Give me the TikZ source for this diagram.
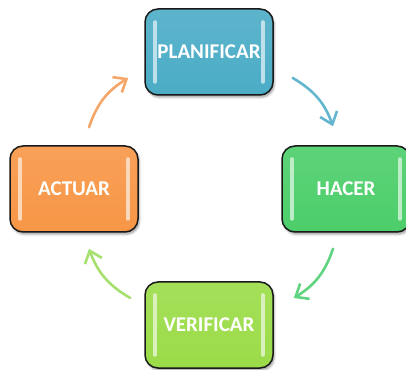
\documentclass[tikz,border=0pt]{standalone}
\usepackage{fontspec}
\setmainfont{Carlito}
\usetikzlibrary{arrows.meta,shadows.blur}
\definecolor{azulPlan}{RGB}{75,172,198}
\definecolor{verdeHacer}{RGB}{76,206,106}
\definecolor{limaVerif}{RGB}{155,220,72}
\definecolor{naranjaAct}{RGB}{247,150,70}
\definecolor{flechaAzul}{RGB}{100,182,206}
\definecolor{flechaVerde}{RGB}{96,212,128}
\definecolor{flechaLima}{RGB}{166,224,110}
\definecolor{flechaNaranja}{RGB}{245,166,106}
\begin{document}
\begin{tikzpicture}[x=1pt,y=1pt,
		Caja/.style={draw=black!90, line width=1.5pt, rounded corners=13pt, minimum width=128pt, minimum height=86pt, top color=#1!90!white, bottom color=#1, text=white, font=\fontsize{21}{25}\selectfont\bfseries, blur shadow={shadow xshift=1.5pt, shadow yshift=-2.5pt, shadow opacity=35}},
		Flecha/.style={draw=#1, line width=2.6pt, line cap=round, -{Straight Barb[length=11pt,width=18pt,line width=2.6pt]}},
		Brillo/.style={draw=#1!30!white, opacity=0.9, line width=4pt, line cap=round}]
		\useasboundingbox (0,0) rectangle (406,369);
		\node[Caja=azulPlan] (plan) at (209,317) {PLANIFICAR};
		\node[Caja=verdeHacer] (hacer) at (346,180) {HACER};
		\node[Caja=limaVerif] (verif) at (209,44) {VERIFICAR};
		\node[Caja=naranjaAct] (actuar) at (74,180) {ACTUAR};
		\foreach \n/\c in {plan/azulPlan,hacer/verdeHacer,verif/limaVerif,actuar/naranjaAct}{
			\draw[Brillo=\c] ([shift={(11pt,-14pt)}]\n.north west) -- ([shift={(11pt,14pt)}]\n.south west);
			\draw[Brillo=\c] ([shift={(-11pt,-14pt)}]\n.north east) -- ([shift={(-11pt,14pt)}]\n.south east);
		}
		\draw[Flecha=flechaAzul] ([shift={(19pt,-26pt)}]plan.east) to[bend left=20] ([shift={(-13pt,19pt)}]hacer.north);
		\draw[Flecha=flechaVerde] ([shift={(-13pt,-16pt)}]hacer.south) to[bend left=20] ([shift={(20pt,27pt)}]verif.east);
		\draw[Flecha=flechaLima] ([shift={(-14pt,27pt)}]verif.west) to[bend left=20] ([shift={(15pt,-16pt)}]actuar.south);
		\draw[Flecha=flechaNaranja] ([shift={(15pt,18pt)}]actuar.north) to[bend left=20] ([shift={(-16pt,-26pt)}]plan.west);
	\end{tikzpicture}
\end{document}
